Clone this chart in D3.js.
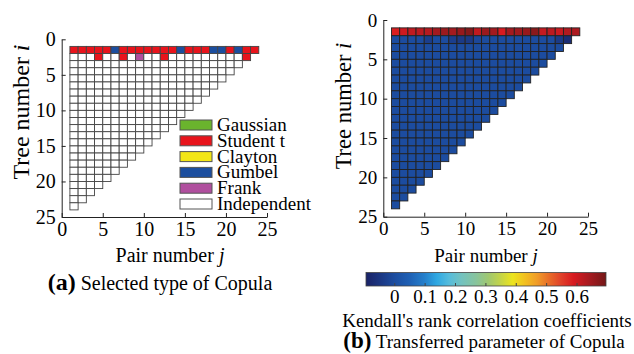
<!DOCTYPE html>
<html>
<head>
<meta charset="utf-8">
<script src="https://cdn.jsdelivr.net/npm/d3@7"></script>
<style>
  body { margin: 0; background: #fff; }
  svg, svg text { font-family: "Liberation Serif", Tinos, "Times New Roman", Times, serif; }
</style>
</head>
<body>
<div id="chart"></div>
<script>
const width = 634;
const height = 354;

// copula families (legend order)
const families = ["Gaussian", "Student t", "Clayton", "Gumbel", "Frank", "Independent"];
const familyColors = ["#6ab42d", "#e8141c", "#f3e616", "#1c4e9e", "#b04f9e", "#ffffff"];

// selected family per tree (tree 1, tree 2); other trees are independent
const typeTree1 = ["Student t","Student t","Student t","Student t","Student t","Gumbel","Student t","Student t",
    "Student t","Student t","Student t","Student t","Student t","Gumbel","Student t","Student t","Student t",
    "Gumbel","Gumbel","Student t","Gumbel","Student t","Student t"];
const typeTree2 = ["Independent","Independent","Independent","Student t","Independent","Independent","Student t",
    "Independent","Frank","Independent","Independent","Student t","Independent","Independent","Independent",
    "Independent","Independent","Independent","Independent","Independent","Independent","Student t"];

// Kendall's tau per tree (tree 1, tree 2); other trees are 0
const tauTree1 = [0.585, 0.60, 0.615, 0.62, 0.625, 0.645, 0.655, 0.645, 0.66, 0.68, 0.615, 0.655,
    0.645, 0.59, 0.645, 0.65, 0.66, 0.675, 0.61, 0.62, 0.605, 0.63, 0.635];
const tauTree2 = [0, 0, 0, 0, -0.03, 0, 0, -0.03, -0.04, -0.04, -0.01, 0, 0, 0, 0, 0, 0, 0, 0,
    0, -0.04, -0.07];

const nTrees = 23;
const axisTicks = [0, 5, 10, 15, 20, 25];
const cbarTicks = [0, 0.1, 0.2, 0.3, 0.4, 0.5, 0.6];

// colour map of panel (b)
const cmapStops = [-0.09, -0.05, 0.0, 0.05, 0.1, 0.14, 0.18, 0.22, 0.27, 0.31, 0.35, 0.39,
    0.43, 0.47, 0.51, 0.55, 0.59, 0.64, 0.70];
const cmapColors = ["#1a2468", "#1b3580", "#1c4c9f", "#1f60b4", "#2580cc", "#2fa8e2", "#55bcdc",
    "#72c2c0", "#88c49c", "#a0c870", "#c4d448", "#ece41e", "#f2c020", "#f09c28", "#e86c28",
    "#e0402a", "#d81a20", "#a81a20", "#741818"];

const typeColor = d3.scaleOrdinal().domain(families).range(familyColors);
const tauColor = d3.scaleLinear().domain(cmapStops).range(cmapColors).clamp(true);

// build cell tables
const typeCells = [];
const tauCells = [];
for (let i = 1; i <= nTrees; i++) {
    for (let j = 1; j <= nTrees + 1 - i; j++) {
        let t = "Independent", tau = 0;
        if (i === 1) { t = typeTree1[j - 1]; tau = tauTree1[j - 1]; }
        if (i === 2) { t = typeTree2[j - 1]; tau = tauTree2[j - 1]; }
        typeCells.push({i, j, type: t});
        tauCells.push({i, j, tau});
    }
}

const svg = d3.select("#chart").append("svg")
    .attr("width", width)
    .attr("height", height);
svg.append("rect").attr("width", width).attr("height", height).attr("fill", "#fff");

function drawAxes(g, x, y, fs) {
    const xAxis = g.append("g")
        .attr("transform", `translate(0,${y(25)})`)
        .call(d3.axisBottom(x).tickValues(axisTicks).tickSizeInner(-4).tickSizeOuter(0).tickPadding(5));
    const yAxis = g.append("g")
        .attr("transform", `translate(${x(0)},0)`)
        .call(d3.axisLeft(y).tickValues(axisTicks).tickSizeInner(-4).tickSizeOuter(0).tickPadding(6));
    [xAxis, yAxis].forEach(a => {
        a.attr("font-family", null);
        a.selectAll("text").attr("font-size", fs).attr("fill", "#000");
        a.selectAll("line, path").attr("stroke", "#222").attr("stroke-width", 1);
    });
}

function axisTitles(g, titleX, fsX, titleY, centerY, fsY) {
    g.append("text")
        .attr("x", titleX).attr("y", 262)
        .attr("text-anchor", "middle")
        .attr("font-size", fsX)
        .call(t => {
            t.append("tspan").text("Pair number ");
            t.append("tspan").attr("font-style", "italic").text("j");
        });
    g.append("text")
        .attr("transform", `translate(${titleY},${centerY}) rotate(-90)`)
        .attr("text-anchor", "middle")
        .attr("font-size", fsY)
        .call(t => {
            t.append("tspan").text("Tree number ");
            t.append("tspan").attr("font-style", "italic").text("i");
        });
}

// ---------- panel (a) ----------
const xA = d3.scaleLinear().domain([0, 25]).range([61.7, 267]);
const yA = d3.scaleLinear().domain([0, 25]).range([39.3, 217]);
const gA = svg.append("g");

gA.selectAll("rect.cell")
    .data(typeCells)
    .join("rect")
    .attr("class", "cell")
    .attr("x", d => xA(d.j))
    .attr("y", d => yA(d.i))
    .attr("width", d => xA(d.j + 1) - xA(d.j))
    .attr("height", d => yA(d.i + 1) - yA(d.i))
    .attr("fill", d => typeColor(d.type))
    .attr("stroke", "#444")
    .attr("stroke-width", 0.9);

drawAxes(gA, xA, yA, 20);
axisTitles(gA, 170, 20, 29, 112, 24);

// legend
const legend = gA.append("g").attr("transform", "translate(180,120)");
const legItem = legend.selectAll("g")
    .data(families)
    .join("g")
    .attr("transform", (d, k) => `translate(0,${k * 15.8})`);
legItem.append("rect")
    .attr("width", 32).attr("height", 10)
    .attr("fill", d => typeColor(d))
    .attr("stroke", "#555").attr("stroke-width", 1);
legItem.append("text")
    .attr("x", 37).attr("y", 11)
    .attr("font-size", 19)
    .text(d => d);

// caption (a)
svg.append("text")
    .attr("x", 160).attr("y", 290)
    .attr("text-anchor", "middle")
    .call(t => {
        t.append("tspan").attr("font-weight", "bold").attr("font-size", 24).text("(a)");
        t.append("tspan").attr("font-size", 20).text(" Selected type of Copula");
    });

// ---------- panel (b) ----------
const xB = d3.scaleLinear().domain([0, 25]).range([383.3, 588]);
const yB = d3.scaleLinear().domain([0, 25]).range([20, 216.7]);
const gB = svg.append("g");

gB.selectAll("rect.cell")
    .data(tauCells)
    .join("rect")
    .attr("class", "cell")
    .attr("x", d => xB(d.j))
    .attr("y", d => yB(d.i))
    .attr("width", d => xB(d.j + 1) - xB(d.j))
    .attr("height", d => yB(d.i + 1) - yB(d.i))
    .attr("fill", d => tauColor(d.tau))
    .attr("stroke", "#222")
    .attr("stroke-width", 0.9);

drawAxes(gB, xB, yB, 19);
axisTitles(gB, 486, 19, 351, 106, 22.5);

// colorbar
const cbX = d3.scaleLinear().domain([-0.093, 0.697]).range([366, 606]);
const cbY = 272.5, cbH = 13.5;
const defs = svg.append("defs");
const grad = defs.append("linearGradient").attr("id", "cmap")
    .attr("x1", "0%").attr("x2", "100%").attr("y1", "0%").attr("y2", "0%");
grad.selectAll("stop")
    .data(cmapStops)
    .join("stop")
    .attr("offset", d => (cbX(d) - cbX.range()[0]) / (cbX.range()[1] - cbX.range()[0]))
    .attr("stop-color", d => tauColor(d));
svg.append("rect")
    .attr("x", cbX.range()[0]).attr("y", cbY)
    .attr("width", cbX.range()[1] - cbX.range()[0]).attr("height", cbH)
    .attr("fill", "url(#cmap)")
    .attr("stroke", "#444").attr("stroke-width", 0.8);
const cbAxis = svg.append("g")
    .attr("transform", `translate(0,${cbY + cbH})`)
    .call(d3.axisBottom(cbX).tickValues(cbarTicks).tickFormat(d3.format("")).tickSizeInner(-3).tickSizeOuter(0).tickPadding(4));
cbAxis.attr("font-family", null);
cbAxis.select(".domain").remove();
cbAxis.selectAll("line").attr("stroke", "#444");
cbAxis.selectAll("text").attr("font-size", 19).attr("fill", "#000");

svg.append("text")
    .attr("x", 487).attr("y", 327)
    .attr("text-anchor", "middle")
    .attr("font-size", 19)
    .text("Kendall's rank correlation coefficients");

svg.append("text")
    .attr("x", 484).attr("y", 348)
    .attr("text-anchor", "middle")
    .call(t => {
        t.append("tspan").attr("font-weight", "bold").attr("font-size", 23).text("(b)");
        t.append("tspan").attr("font-size", 19).text(" Transferred parameter of Copula");
    });
</script>
</body>
</html>
